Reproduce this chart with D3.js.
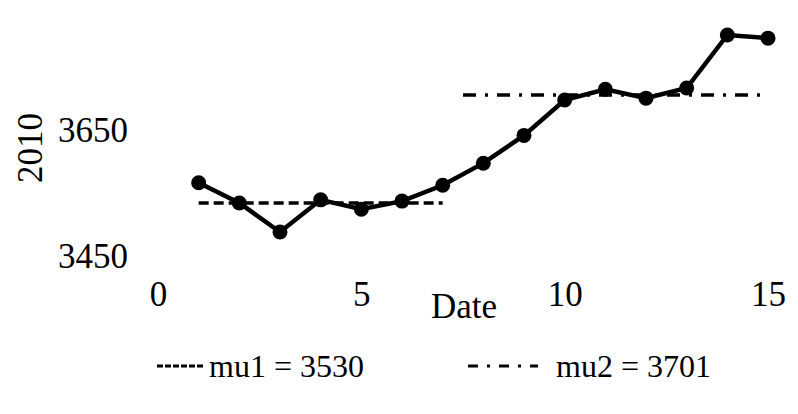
<!DOCTYPE html>
<html>
<head>
<meta charset="utf-8">
<script src="https://cdn.jsdelivr.net/npm/d3@7"></script>
<style>
  body { margin: 0; background: #fff; }
  svg { display: block; font-family: "Liberation Serif", "DejaVu Serif", serif; }
</style>
</head>
<body>
<svg width="798" height="414"></svg>
<script>
const dates = [1,2,3,4,5,6,7,8,9,10,11,12,13,14,15]
const values = [3562,3530,3484,3535,3520,3533,3558,3593,3637,3693,3710,3696,3712,3796,3791]
const xTicks = [0,5,10,15]
const yTicks = [3450,3650]
const means = [
  {label:'mu1 = 3530', value:3530, from:1, to:7},
  {label:'mu2 = 3701', value:3701, from:7.5, to:15}
]

const svg = d3.select('svg'),
    x = d3.scaleLinear().domain([0,15]).range([158,768]),
    y = d3.scaleLinear().domain([3450,3650]).range([253.5,127.2]),
    dashes = ['10,5','13,9,3,9']

// axes without lines, just the labels
const xAxis = svg.append("g")
    .attr("transform", "translate(0,281)")
    .call(d3.axisBottom(x).tickValues(xTicks).tickFormat(d3.format("d")).tickSize(0).tickPadding(0))
    .attr("font-family", null)
    .attr("font-size", 35)
xAxis.select(".domain").remove()
xAxis.selectAll("text").attr("dy", "0.71em")

const yAxis = svg.append("g")
    .attr("transform", "translate(128,0)")
    .call(d3.axisLeft(y).tickValues(yTicks).tickFormat(d3.format("d")).tickSize(0).tickPadding(0))
    .attr("font-family", null)
    .attr("font-size", 35)
yAxis.select(".domain").remove()
yAxis.selectAll("text").attr("dy", "0.4em")

svg.append("text")
    .attr("transform", "translate(42,148) rotate(-90)")
    .attr("text-anchor", "middle")
    .attr("font-size", 35)
    .text("2010")

svg.append("text")
    .attr("x", 464)
    .attr("y", 318)
    .attr("text-anchor", "middle")
    .attr("font-size", 35)
    .text("Date")

// mean lines
svg.selectAll(".mean")
  .data(means)
  .enter().append("line")
    .attr("class", "mean")
    .attr("x1", d => x(d.from))
    .attr("x2", d => x(d.to))
    .attr("y1", d => y(d.value))
    .attr("y2", d => y(d.value))
    .attr("stroke", "#000")
    .attr("stroke-width", 3.5)
    .attr("stroke-dasharray", (d,i) => dashes[i])

const line = d3.line()
    .x((d,i) => x(dates[i]))
    .y(d => y(d))

svg.append("path")
    .datum(values)
    .attr("fill", "none")
    .attr("stroke", "#000")
    .attr("stroke-width", 4.5)
    .attr("d", line)

svg.selectAll(".dot")
  .data(values)
  .enter().append("circle")
    .attr("class", "dot")
    .attr("cx", (d,i) => x(dates[i]))
    .attr("cy", d => y(d))
    .attr("r", 7.5)
    .attr("fill", "#000")

// legend
const legend = svg.selectAll(".legend")
  .data(means)
  .enter().append("g")
    .attr("class", "legend")
    .attr("transform", (d,i) => "translate(" + [157,468][i] + ",366)")

legend.append("line")
    .attr("x1", 0)
    .attr("x2", (d,i) => [48,70][i])
    .attr("stroke", "#000")
    .attr("stroke-width", 3)
    .attr("stroke-dasharray", (d,i) => i ? '10,9,3,9' : '6,2')

legend.append("text")
    .attr("x", (d,i) => [52,88][i])
    .attr("dy", "0.35em")
    .attr("font-size", 32)
    .text(d => d.label)
</script>
</body>
</html>
